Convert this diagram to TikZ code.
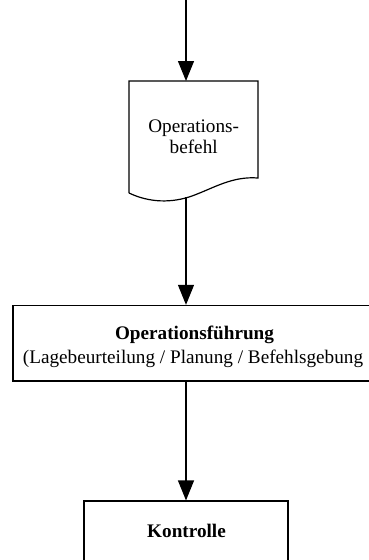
\documentclass[tikz,border=0pt]{standalone}
\usepackage{fontspec}
\setmainfont{Liberation Serif}
\usetikzlibrary{arrows.meta}
\begin{document}
\begin{tikzpicture}[x=1pt,y=-1pt,
  line width=1.2pt,
  flow/.style={-{Triangle[length=20pt,width=16pt]}},
  boxstyle/.style={draw,rectangle,inner sep=0pt},
  lbl/.style={anchor=base,inner sep=0pt,font=\fontsize{19.2}{23}\selectfont}]
  \useasboundingbox (0,0) rectangle (368,560);

  % document symbol with wavy bottom edge
  \draw (129,193) -- (129,81) -- (258,81) -- (258,178)
        .. controls (232,176) and (214,188) .. (192,196)
        .. controls (172,203) and (150,203) .. (129,193);
  \coordinate (docin) at (186,81);
  \coordinate (docout) at (186,197);
  \coordinate (src) at (186,0);
  \node[lbl] (doc1) at (193.7,132.7) {Operations-};
  \node[lbl] (doc2) at (193.7,153.3) {befehl};

  % operations box (runs past the right edge)
  \node[boxstyle,minimum width=362pt,minimum height=75.5pt] (mid) at (194,343.2) {};
  \node[lbl] (midtitle) at (194.5,339) {\bfseries Operationsführung};
  \node[lbl] (midsub) at (193,363) {(Lagebeurteilung / Planung / Befehlsgebung};

  % control box (runs past the bottom edge)
  \node[boxstyle,minimum width=204pt,minimum height=90pt] (ctrl) at (186,546) {};
  \node[lbl] (ctrltitle) at (186.5,537) {\bfseries Kontrolle};

  % connectors
  \draw[flow] (src) -- (docin);
  \draw[flow] (docout) -- (docout |- mid.north);
  \draw[flow] (docout |- mid.south) -- (docout |- ctrl.north);
\end{tikzpicture}
\end{document}
